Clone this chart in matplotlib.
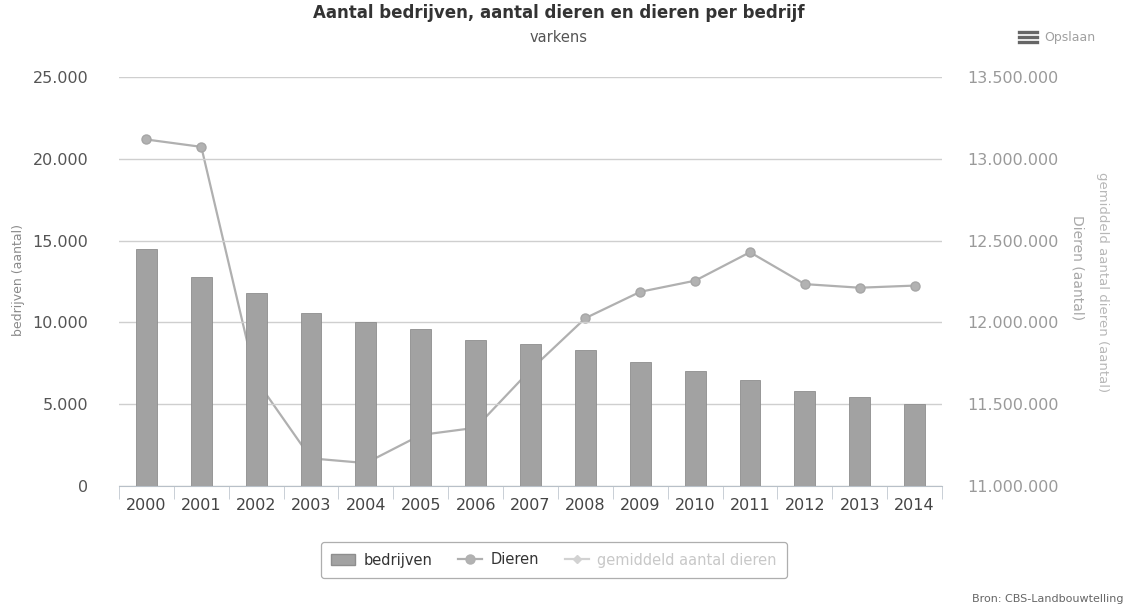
import matplotlib.pyplot as plt
from matplotlib.lines import Line2D
from matplotlib.patches import Patch
from matplotlib.ticker import FuncFormatter, MultipleLocator

jaren = ['2000', '2001', '2002', '2003', '2004', '2005', '2006', '2007',
         '2008', '2009', '2010', '2011', '2012', '2013', '2014']
bedrijven = [14500, 12800, 11800, 10600, 10000, 9600, 8900, 8700,
             8300, 7550, 7000, 6500, 5800, 5450, 5000]
dieren = [13118000, 13073000, 11648000, 11169000, 11140000, 11312000, 11356000, 11710000,
          12026000, 12187000, 12255000, 12429000, 12234000, 12212000, 12225000]


def dutch(v, _pos=None):
    return f'{int(round(v)):,}'.replace(',', '.')


def main():
    plt.rcParams['font.family'] = ['DejaVu Sans']
    fig = plt.figure(figsize=(11.27, 6.10), dpi=100)
    ax = fig.add_axes([119 / 1127, 1 - 486 / 610, (942 - 119) / 1127, (486 - 77) / 610])
    ax2 = ax.twinx()

    x = list(range(len(jaren)))
    ax.bar(x, bedrijven, width=0.38, color='#a2a2a2', edgecolor='#8e8e8e', linewidth=0.6, zorder=3)
    ax2.plot(x, dieren, color='#b0b0b0', lw=1.6, marker='o', markersize=6.5,
             markerfacecolor='#b2b2b2', markeredgecolor='#a6a6a6', zorder=2)

    # bars sit on top of the line, like the original
    ax.set_zorder(ax2.get_zorder() + 1)
    ax.patch.set_visible(False)

    ax.set_xlim(-0.5, len(jaren) - 0.5)
    ax.set_ylim(0, 25000)
    ax2.set_ylim(11000000, 13500000)
    ax.yaxis.set_major_locator(MultipleLocator(5000))
    ax2.yaxis.set_major_locator(MultipleLocator(500000))
    ax.yaxis.set_major_formatter(FuncFormatter(dutch))
    ax2.yaxis.set_major_formatter(FuncFormatter(dutch))

    ax.grid(axis='y', color='#cfcfcf', lw=1.0, zorder=0)
    for a in (ax, ax2):
        for s in a.spines.values():
            s.set_visible(False)
    ax.spines['bottom'].set_visible(True)
    ax.spines['bottom'].set_color('#b8c0c8')

    ax.set_xticks(x)
    ax.set_xticklabels(jaren, fontsize=11.5, color='#444444')
    ax.tick_params(axis='x', length=0, pad=9)
    ax.set_xticks([i - 0.5 for i in range(len(jaren) + 1)], minor=True)
    ax.tick_params(axis='x', which='minor', length=9, color='#c0c8d0')
    ax.tick_params(axis='y', length=0, labelsize=11.5, labelcolor='#555555', pad=22)
    ax2.tick_params(axis='y', length=0, labelsize=11.5, labelcolor='#9a9a9a', pad=18)

    fig.text(0.016, 1 - 280 / 610, 'bedrijven (aantal)', rotation=90, ha='center', va='center',
             fontsize=9, color='#8a8a8a')
    fig.text(1077 / 1127, 1 - 268 / 610, 'Dieren (aantal)', rotation=270, ha='center', va='center',
             fontsize=10, color='#a8a8a8')
    fig.text(1103 / 1127, 1 - 282 / 610, 'gemiddeld aantal dieren (aantal)', rotation=270,
             ha='center', va='center', fontsize=9.5, color='#b8b8b8')

    fig.text(559 / 1127, 1 - 13 / 610, 'Aantal bedrijven, aantal dieren en dieren per bedrijf',
             ha='center', va='center', fontsize=12, fontweight='bold', color='#333333')
    fig.text(559 / 1127, 1 - 38 / 610, 'varkens', ha='center', va='center', fontsize=10.5, color='#555555')

    # export button
    for dy in (32, 37, 42):
        fig.add_artist(Line2D([1019 / 1127, 1037 / 1127], [1 - dy / 610] * 2, color='#666666', lw=2.4))
    fig.text(1044 / 1127, 1 - 37 / 610, 'Opslaan', ha='left', va='center', fontsize=9, color='#a0a0a0')

    handles = [
        Patch(facecolor='#a2a2a2', edgecolor='#8e8e8e'),
        Line2D([], [], color='#b0b0b0', lw=1.6, marker='o', markersize=6.5, markerfacecolor='#b2b2b2'),
        Line2D([], [], color='#d2d2d2', lw=1.6, marker='D', markersize=4, markerfacecolor='#d2d2d2'),
    ]
    leg = fig.legend(handles, ['bedrijven', 'Dieren', 'gemiddeld aantal dieren'], ncol=3,
                     loc='center', bbox_to_anchor=(554 / 1127, 1 - 560 / 610), fontsize=10.5,
                     frameon=True, fancybox=True, edgecolor='#9a9a9a', handlelength=1.6,
                     columnspacing=1.8, handletextpad=0.6, borderpad=0.7)
    leg.get_frame().set_linewidth(0.9)
    for t, c in zip(leg.get_texts(), ['#333333', '#333333', '#c8c8c8']):
        t.set_color(c)

    fig.text(1124 / 1127, 1 - 599 / 610, 'Bron: CBS-Landbouwtelling', ha='right', va='center',
             fontsize=8, color='#666666')

    fig.savefig('out.png', dpi=100, facecolor='white')


if __name__ == '__main__':
    main()
